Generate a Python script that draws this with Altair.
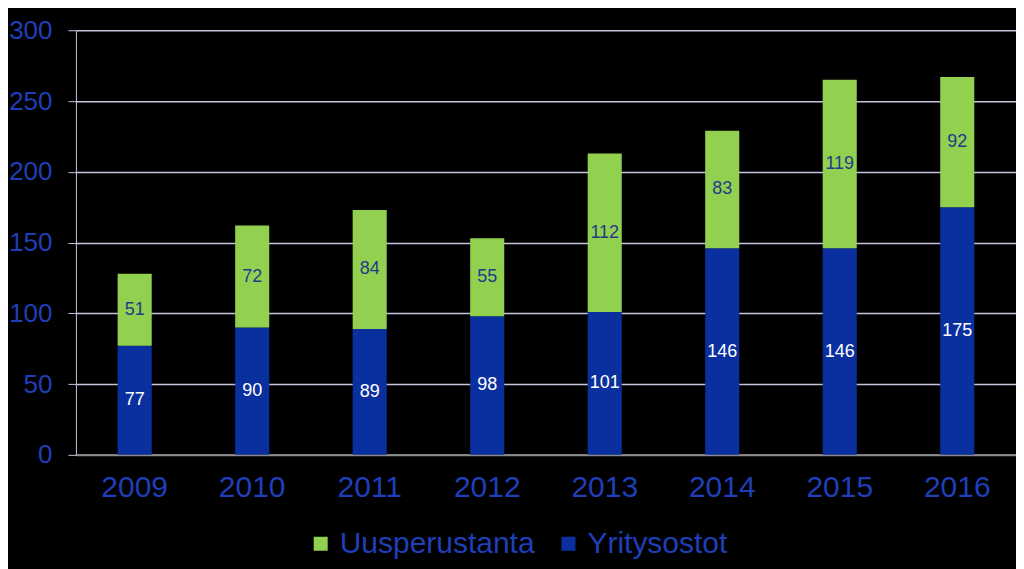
import altair as alt
import pandas as pd

years = ["2009", "2010", "2011", "2012", "2013", "2014", "2015", "2016"]
yritysostot = [77, 90, 89, 98, 101, 146, 146, 175]
uusperustanta = [51, 72, 84, 55, 112, 83, 119, 92]

rows = []
for y, a, b in zip(years, yritysostot, uusperustanta):
    rows.append({"year": y, "series": "Yritysostot", "value": a, "order": 0, "base": 0, "txtcolor": "white"})
    rows.append({"year": y, "series": "Uusperustanta", "value": b, "order": 1, "base": a, "txtcolor": "blue"})
df = pd.DataFrame(rows)
df["mid"] = df["base"] + df["value"] / 2

AXC = "#1F3FB8"
GRID = "#C4C4DC"
FONT = "Liberation Sans"

color = alt.Color(
    "series:N",
    scale=alt.Scale(domain=["Uusperustanta", "Yritysostot"], range=["#92D050", "#0A30A0"]),
    legend=alt.Legend(
        title=None, orient="none", direction="horizontal", legendX=230, legendY=499,
        labelFontSize=30, labelColor=AXC, labelFont=FONT, symbolType="square",
        symbolSize=196, symbolStrokeWidth=0, columnPadding=18, labelOffset=4, labelLimit=400,
        padding=0,
    ),
)

xenc = alt.X(
    "year:N", sort=years, title=None,
    scale=alt.Scale(paddingInner=0.71, paddingOuter=0.355),
    axis=alt.Axis(labelAngle=0, labelFontSize=30, labelColor=AXC, labelFont=FONT,
                  labelPadding=18, ticks=False, domainColor="#8C8C8C", domainWidth=2, grid=False),
)

bars = alt.Chart(df).mark_bar().encode(
    x=xenc,
    y=alt.Y("value:Q", stack="zero", title=None,
            scale=alt.Scale(domain=[0, 300]),
            axis=alt.Axis(values=[0, 50, 100, 150, 200, 250, 300], labelFontSize=26, labelColor=AXC,
                          labelFont=FONT, tickSize=8, tickColor=GRID, labelPadding=16,
                          gridColor=GRID, domainColor=GRID, gridWidth=1.5)),
    color=color,
    order=alt.Order("order:Q"),
)

labels = alt.Chart(df).mark_text(fontSize=18, font=FONT).encode(
    x=alt.X("year:N", sort=years),
    y=alt.Y("mid:Q"),
    text=alt.Text("value:Q"),
    color=alt.Color("txtcolor:N", scale=alt.Scale(domain=["white", "blue"], range=["#FFFFFF", "#1F3C88"]), legend=None),
)

chart = alt.layer(bars, labels).resolve_scale(color="independent").properties(
    width=941, height=425, background="black",
    autosize=alt.AutoSizeParams(type="none"),
    padding={"left": 68, "top": 22, "right": 0, "bottom": 114},
).configure_view(stroke=None)

chart.save("out.html", embed_options={"renderer": "svg", "actions": False})
